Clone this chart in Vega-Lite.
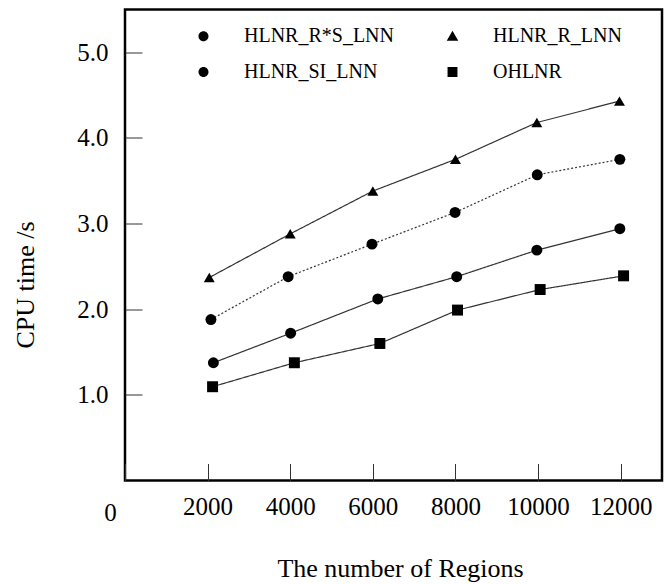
{
  "$schema": "https://vega.github.io/schema/vega-lite/v6.json",
  "autosize": {"type": "none"},
  "padding": {"left": 125, "top": 9.5, "right": 8, "bottom": 103.5},
  "width": 537,
  "height": 471,
  "background": "white",
  "config": {
    "view": {"stroke": "black", "strokeWidth": 2.5},
    "font": "Liberation Serif"
  },
  "data": {
    "values": [
      {"s": "HLNR_R_LNN", "x": 2040, "y": 2.37},
      {"s": "HLNR_R_LNN", "x": 4000, "y": 2.88},
      {"s": "HLNR_R_LNN", "x": 6000, "y": 3.38},
      {"s": "HLNR_R_LNN", "x": 8000, "y": 3.75},
      {"s": "HLNR_R_LNN", "x": 9970, "y": 4.18},
      {"s": "HLNR_R_LNN", "x": 11970, "y": 4.43},
      {"s": "HLNR_R*S_LNN", "x": 2080, "y": 1.88},
      {"s": "HLNR_R*S_LNN", "x": 3950, "y": 2.38},
      {"s": "HLNR_R*S_LNN", "x": 5980, "y": 2.76},
      {"s": "HLNR_R*S_LNN", "x": 7990, "y": 3.13},
      {"s": "HLNR_R*S_LNN", "x": 9980, "y": 3.57},
      {"s": "HLNR_R*S_LNN", "x": 11980, "y": 3.75},
      {"s": "HLNR_SI_LNN", "x": 2140, "y": 1.375},
      {"s": "HLNR_SI_LNN", "x": 4010, "y": 1.72},
      {"s": "HLNR_SI_LNN", "x": 6120, "y": 2.12},
      {"s": "HLNR_SI_LNN", "x": 8030, "y": 2.38},
      {"s": "HLNR_SI_LNN", "x": 9970, "y": 2.69},
      {"s": "HLNR_SI_LNN", "x": 11980, "y": 2.94},
      {"s": "OHLNR", "x": 2120, "y": 1.095},
      {"s": "OHLNR", "x": 4100, "y": 1.375},
      {"s": "OHLNR", "x": 6170, "y": 1.6},
      {"s": "OHLNR", "x": 8050, "y": 1.99},
      {"s": "OHLNR", "x": 10050, "y": 2.23},
      {"s": "OHLNR", "x": 12070, "y": 2.39}
    ]
  },
  "encoding": {
    "x": {
      "field": "x", "type": "quantitative",
      "scale": {"domain": [0, 13000], "nice": false, "zero": false},
      "axis": {
        "title": "The number of Regions",
        "values": [0, 2000, 4000, 6000, 8000, 10000, 12000],
        "format": "d",
        "grid": false,
        "domain": false,
        "tickColor": "#333",
        "tickWidth": 1,
        "tickSize": -17,
        "labelFont": "Liberation Serif",
        "labelFontSize": 25,
        "labelColor": "black",
        "labelPadding": {"condition": {"test": "datum.value === 0", "value": 37}, "value": 31},
        "labelOffset": {"condition": {"test": "datum.value === 0", "value": -15}, "value": 0},
        "labelFlush": false,
        "labelOverlap": false,
        "labelBaseline": "top",
        "titleFont": "Liberation Serif",
        "titleFontSize": 26,
        "titleFontWeight": "normal",
        "titleColor": "black",
        "titleX": 275,
        "titleY": 96,
        "titleBaseline": "alphabetic",
        "titleAlign": "center"
      }
    },
    "y": {
      "field": "y", "type": "quantitative",
      "scale": {"domain": [0, 5.5], "nice": false, "zero": false},
      "axis": {
        "title": "CPU time /s",
        "values": [1, 2, 3, 4, 5],
        "format": ".1f",
        "grid": false,
        "domain": false,
        "tickColor": "#333",
        "tickWidth": 1,
        "tickSize": -17,
        "labelFont": "Liberation Serif",
        "labelFontSize": 25,
        "labelColor": "black",
        "labelPadding": 34,
        "labelBaseline": "middle",
        "labelFlush": false,
        "labelOverlap": false,
        "titleFont": "Liberation Serif",
        "titleFontSize": 26,
        "titleFontWeight": "normal",
        "titleColor": "black",
        "titleAngle": -90,
        "titleX": -92,
        "titleY": 275,
        "titleBaseline": "alphabetic",
        "titleAlign": "center"
      }
    }
  },
  "layer": [
    {
      "mark": {"type": "line", "color": "#333", "strokeWidth": 1.2},
      "encoding": {
        "detail": {"field": "s", "type": "nominal"},
        "strokeDash": {
          "field": "s", "type": "nominal",
          "scale": {
            "domain": ["HLNR_R*S_LNN", "HLNR_R_LNN", "HLNR_SI_LNN", "OHLNR"],
            "range": [[2, 2], [1, 0], [1, 0], [1, 0]]
          },
          "legend": null
        }
      }
    },
    {
      "mark": {"type": "point", "filled": true, "color": "black", "opacity": 1, "size": 120},
      "encoding": {
        "shape": {
          "field": "s", "type": "nominal",
          "scale": {
            "domain": ["HLNR_R*S_LNN", "HLNR_R_LNN", "HLNR_SI_LNN", "OHLNR"],
            "range": ["circle", "triangle-up", "circle", "square"]
          },
          "legend": null
        }
      }
    },
    {
      "mark": {"type": "point", "filled": true, "color": "black", "opacity": 0},
      "encoding": {
        "shape": {
          "field": "s", "type": "nominal",
          "scale": {
            "domain": ["HLNR_R*S_LNN", "HLNR_R_LNN", "HLNR_SI_LNN", "OHLNR"],
            "range": [
              "M-1,0H-0.92M-0.84,0H-0.76M-0.68,0H-0.6M-0.52,0H-0.44M0.44,0H0.52M0.6,0H0.68M0.76,0H0.84M0.92,0H1M0.3125,0A0.3125,0.3125,0,1,1,-0.3125,0A0.3125,0.3125,0,1,1,0.3125,0Z",
              "M-1,0H1M0,-0.34L0.36,0.28L-0.36,0.28Z",
              "M-1,0H1M0.3125,0A0.3125,0.3125,0,1,1,-0.3125,0A0.3125,0.3125,0,1,1,0.3125,0Z",
              "M-1,0H1M-0.31,-0.31H0.31V0.31H-0.31Z"
            ]
          },
          "legend": {
            "title": null,
            "orient": "none",
            "direction": "horizontal",
            "legendX": 62,
            "legendY": 10,
            "columns": 2,
            "columnPadding": 39,
            "rowPadding": 9,
            "padding": 0,
            "symbolSize": 1024,
            "symbolStrokeWidth": 1,
            "symbolStrokeColor": "black",
            "symbolFillColor": "black",
            "symbolOpacity": 1,
            "labelFont": "Liberation Serif",
            "labelFontSize": 20,
            "labelColor": "black",
            "labelOffset": 24,
            "labelLimit": 300,
            "encode": {
              "symbols": {
                "stroke": {"value": "#222"},
                "strokeWidth": {"value": 1},
                "fill": {"value": "black"},
                "opacity": {"value": 1},
                "strokeOpacity": {"value": 1},
                "fillOpacity": {"value": 1}
              }
            }
          }
        }
      }
    }
  ],
  "resolve": {"scale": {"shape": "independent"}}
}
